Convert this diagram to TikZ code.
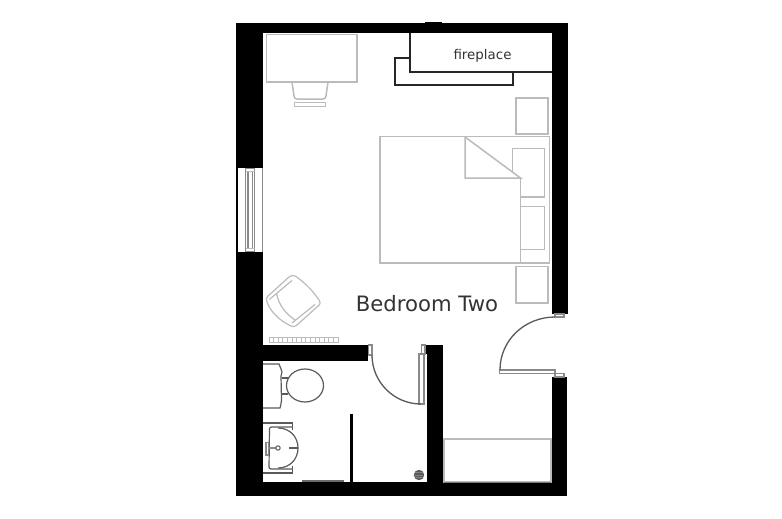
\documentclass[tikz,border=0pt]{standalone}
\usepackage{fontspec}
\setmainfont{DejaVu Sans}
\definecolor{furn}{HTML}{BBBBBB}
\definecolor{dk}{HTML}{5A5A5A}
\definecolor{frm}{HTML}{8A8A8A}
\definecolor{txt}{HTML}{333333}
\tikzset{
  wall/.style={fill=black,draw=none},
  furn line/.style={draw=furn,line width=1.5pt,fill=white},
  frame line/.style={draw=frm,line width=1.1pt,fill=white},
  san line/.style={draw=dk,line width=1.2pt,fill=white},
  label text/.style={text=txt,inner sep=0pt,anchor=center}
}
\begin{document}
\begin{tikzpicture}[x=1pt,y=-1pt]
\useasboundingbox[fill=white] (0,0) rectangle (782,519);
% walls
\fill[wall] (236.3,23.5) rectangle (568,33);
\fill[wall] (425,22.5) rectangle (442,24);
\fill[wall] (236.3,23.5) rectangle (263,168);
\fill[wall] (236.3,252) rectangle (263,496);
\fill[wall] (552,23.5) rectangle (567.5,314);
\fill[wall] (552,377) rectangle (567,496);
\fill[wall] (236.3,482) rectangle (567,496);
\fill[wall] (263,345) rectangle (368,361);
\fill[wall] (427,345) rectangle (443,496);
\fill[wall] (425,345) rectangle (443,354);
% window
\draw[black,line width=1.2pt] (237,168) -- (237,252);
\draw[draw=frm,line width=1pt] (262,168) -- (262,252);
\draw[frame line] (245.5,168.5) rectangle (254.5,251.5);
\draw[frame line] (248,171.5) rectangle (252.5,248.5);
\draw[draw=furn,line width=1pt] (245.5,171.5) -- (254.5,171.5) (245.5,248.5) -- (254.5,248.5);
% desk and chair
\draw[furn line] (292,82) -- (294,96) .. controls (294.5,98) and (295,99) .. (297,99) -- (323,99) .. controls (325,99) and (325.5,98) .. (326,96) -- (328,82);
\draw[furn line] (266.5,34.5) rectangle (357,82);
\draw[furn line] (294.5,102.5) rectangle (325.5,106.5);
% fireplace
\draw[draw=black!85,line width=1.2pt,fill=white] (395,58) rectangle (513,85);
\draw[draw=black!85,line width=1.1pt,fill=white] (552,72) -- (410,72) -- (410,33);
\fill[white] (410.6,33) rectangle (552,71.4);
\node[label text,font=\fontsize{13.4}{15}\selectfont] (fire) at (482.5,56) {fireplace};
% bed and side tables
\draw[furn line] (516,98) rectangle (548,134);
\draw[furn line] (516,266.5) rectangle (548,303);
\draw[furn line] (380,136.5) rectangle (549.5,263);
\draw[furn line] (512.5,148.5) rectangle (544.5,197);
\draw[furn line] (512.5,206.5) rectangle (544.5,249.5);
\fill[white] (381,179) rectangle (520,262);
\draw[draw=furn,line width=1.5pt] (520.5,263) -- (520.5,178);
\draw[draw=furn,line width=1.5pt,fill=white,line join=miter] (465,137) -- (520.5,178) -- (465,178) -- cycle;
% label
\node[label text,font=\fontsize{21.2}{25}\selectfont] (room) at (427,304) {Bedroom Two};
% armchair
\draw[furn line,line width=1.2pt] (268,296) -- (289,277) .. controls (292,275) and (295,275) .. (298,278) .. controls (306,284) and (313,291) .. (319,300) .. controls (321,303) and (320,305) .. (317,307) -- (297,325) .. controls (294,327) and (292,327) .. (289,325) .. controls (279,320) and (270,311) .. (267,302) .. controls (266,299) and (266,298) .. (268,296) -- cycle;
\draw[draw=furn,line width=1.2pt] (269.3,299.5) -- (292,280.5) (292,323) -- (315,304.5);
\draw[draw=furn,line width=1.2pt] (276.7,294) .. controls (279,305) and (285,313) .. (295,320);
% radiator
\draw[draw=furn,line width=1pt,fill=white] (269,337.5) rectangle (338,342);
\foreach \i in {1,...,14} \draw[draw=furn,line width=.8pt] ({269+\i*4.6},337.5) -- ({269+\i*4.6},342);
% bathroom door
\draw[frame line] (368.5,345) rectangle (372,355);
\draw[frame line] (421.5,345) rectangle (425,354);
\draw[frame line] (419,354) rectangle (424,404);
\draw[draw=dk,line width=1.3pt] (372,355) arc[start angle=180,end angle=270,radius=49,y radius=-49];
% bedroom door
\draw[frame line] (555,314) rectangle (564,317);
\draw[frame line] (555,373.5) rectangle (564,377);
\draw[frame line] (499.5,370) rectangle (555,373.5);
\draw[draw=dk,line width=1.3pt] (500,370) .. controls (500,340) and (525,317) .. (555,317);
% wardrobe
\draw[furn line] (444,439) rectangle (551,482);
\draw[draw=dk!80,line width=.8pt] (444,482) -- (551,482);
% toilet
\draw[san line] (263,364) -- (279,364) -- (281,369) -- (282,372) -- (281,376) -- (281.5,400) -- (281,404) -- (280,408) -- (263,408);
\draw[san line] (282,378) -- (288,378) (282,394) -- (288,394);
\draw[san line] (305,385.5) ellipse[x radius=18.5,y radius=16.5];
% basin
\draw[san line,fill=none] (263,423) -- (292.5,423) -- (292.5,430) (292.5,466) -- (292.5,473) -- (263,473);
\draw[san line,fill=none,rounded corners=2pt] (292,427) -- (269.5,427) -- (269,469) -- (292,469);
\draw[draw=dk,line width=1.2pt] (278,428) .. controls (290,428) and (298,437) .. (298,448) .. controls (298,459) and (290,468) .. (278,468);
\draw[draw=dk,line width=2.2pt] (289,448) -- (298,448);
\draw[draw=frm,line width=2.4pt] (268,448) -- (276,448);
\draw[draw=dk,line width=1pt,fill=white] (278,448) circle (2.2);
\draw[draw=frm,line width=1.2pt,fill=white] (266,442.5) rectangle (268.5,455);
% shower
\draw[black,line width=2.4pt] (351.5,414) -- (351.5,482);
\fill[dk!90] (302,480) rectangle (344,482);
\fill[dk] (419,475) circle (5.2);
\foreach \yy in {472.5,475,477.5} \draw[dk!75,line width=.5pt] (415,\yy) -- (423,\yy);
\end{tikzpicture}
\end{document}
